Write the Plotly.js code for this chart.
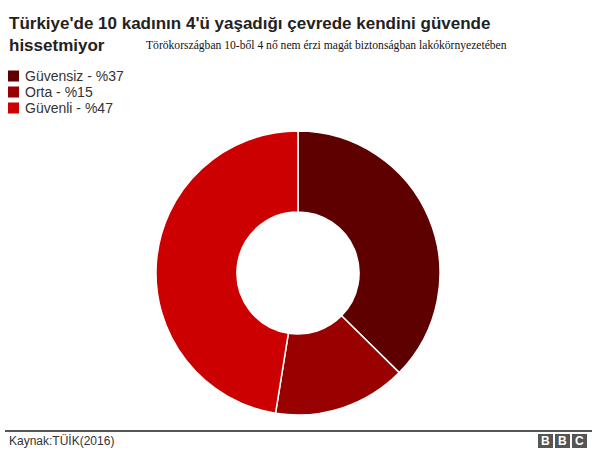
<!DOCTYPE html>
<html>
<head>
<meta charset="utf-8">
<script src="https://cdn.plot.ly/plotly-3.0.1.min.js"></script>
<style>
  html, body { margin: 0; padding: 0; background: #ffffff; }
  #chart { width: 600px; height: 456px; }
</style>
</head>
<body>
<div id="chart"></div>
<script>
// Share of women by how safe they feel where they live (TÜİK, 2016)
const categories = ["Güvensiz", "Orta", "Güvenli"];
const shares = [37, 15, 47];
const sliceColors = ["#5e0000", "#990000", "#cc0000"];
const legendLabels = categories.map((c, i) => c + " - %" + shares[i]);

const titleLines = ["Türkiye'de 10 kadının 4'ü yaşadığı çevrede kendini güvende", "hissetmiyor"];
const subtitleText = "Törökországban 10-ből 4 nő nem érzi magát biztonságban lakókörnyezetében";
const sourceText = "Kaynak:TÜİK(2016)";
const logoLetters = ["B", "B", "C"];

const W = 600, H = 456;
const px = x => x / W;          // pixel column -> paper x
const py = y => 1 - y / H;      // pixel row -> paper y

const trace = {
  type: "pie",
  labels: legendLabels,
  values: shares,
  marker: { colors: sliceColors, line: { color: "#ffffff", width: 1.5 } },
  hole: 0.43,
  sort: false,
  direction: "clockwise",
  rotation: 0,
  textinfo: "none",
  hoverinfo: "label",
  showlegend: false,
  domain: { x: [px(156), px(440)], y: [py(415), py(131)] }
};

const sans = "Liberation Sans, Arial, sans-serif";
const shapes = [];
const annotations = [];

// Title (two lines) and the small serif caption beside the second line
titleLines.forEach((line, i) => {
  annotations.push({
    xref: "paper", yref: "paper", x: px(7), y: py(24 + i * 21),
    xanchor: "left", yanchor: "middle", showarrow: false,
    text: "<b>" + line + "</b>",
    font: { family: sans, size: 17, color: "#222222" }
  });
});
annotations.push({
  xref: "paper", yref: "paper", x: px(144), y: py(45),
  xanchor: "left", yanchor: "middle", showarrow: false,
  text: subtitleText,
  font: { family: "Liberation Serif, Times New Roman, serif", size: 11.6, color: "#111111" }
});

// Key: colour square plus label for each slice
legendLabels.forEach((label, i) => {
  const cy = 76 + i * 16;
  shapes.push({
    type: "rect", xref: "paper", yref: "paper",
    x0: px(8), x1: px(19), y0: py(cy + 5.5), y1: py(cy - 5.5),
    fillcolor: sliceColors[i], line: { width: 0 }
  });
  annotations.push({
    xref: "paper", yref: "paper", x: px(23), y: py(cy),
    xanchor: "left", yanchor: "middle", showarrow: false,
    text: label,
    font: { family: sans, size: 14, color: "#333333" }
  });
});

// Footer rule, source and block logo
shapes.push({
  type: "line", xref: "paper", yref: "paper",
  x0: px(5), x1: px(592), y0: py(431), y1: py(431),
  line: { color: "#555555", width: 2 }
});
annotations.push({
  xref: "paper", yref: "paper", x: px(7), y: py(441),
  xanchor: "left", yanchor: "middle", showarrow: false,
  text: sourceText,
  font: { family: sans, size: 12, color: "#333333" }
});
logoLetters.forEach((ch, i) => {
  const x0 = 538 + i * 17;
  shapes.push({
    type: "rect", xref: "paper", yref: "paper",
    x0: px(x0), x1: px(x0 + 15), y0: py(448), y1: py(434),
    fillcolor: "#555555", line: { width: 0 }
  });
  annotations.push({
    xref: "paper", yref: "paper", x: px(x0 + 7.5), y: py(441),
    xanchor: "center", yanchor: "middle", showarrow: false,
    text: "<b>" + ch + "</b>",
    font: { family: sans, size: 12, color: "#ffffff" }
  });
});

const layout = {
  width: W,
  height: H,
  margin: { l: 0, r: 0, t: 0, b: 0 },
  paper_bgcolor: "#ffffff",
  plot_bgcolor: "#ffffff",
  showlegend: false,
  shapes: shapes,
  annotations: annotations
};

Plotly.newPlot("chart", [trace], layout, { displayModeBar: false, staticPlot: true });
</script>
</body>
</html>
